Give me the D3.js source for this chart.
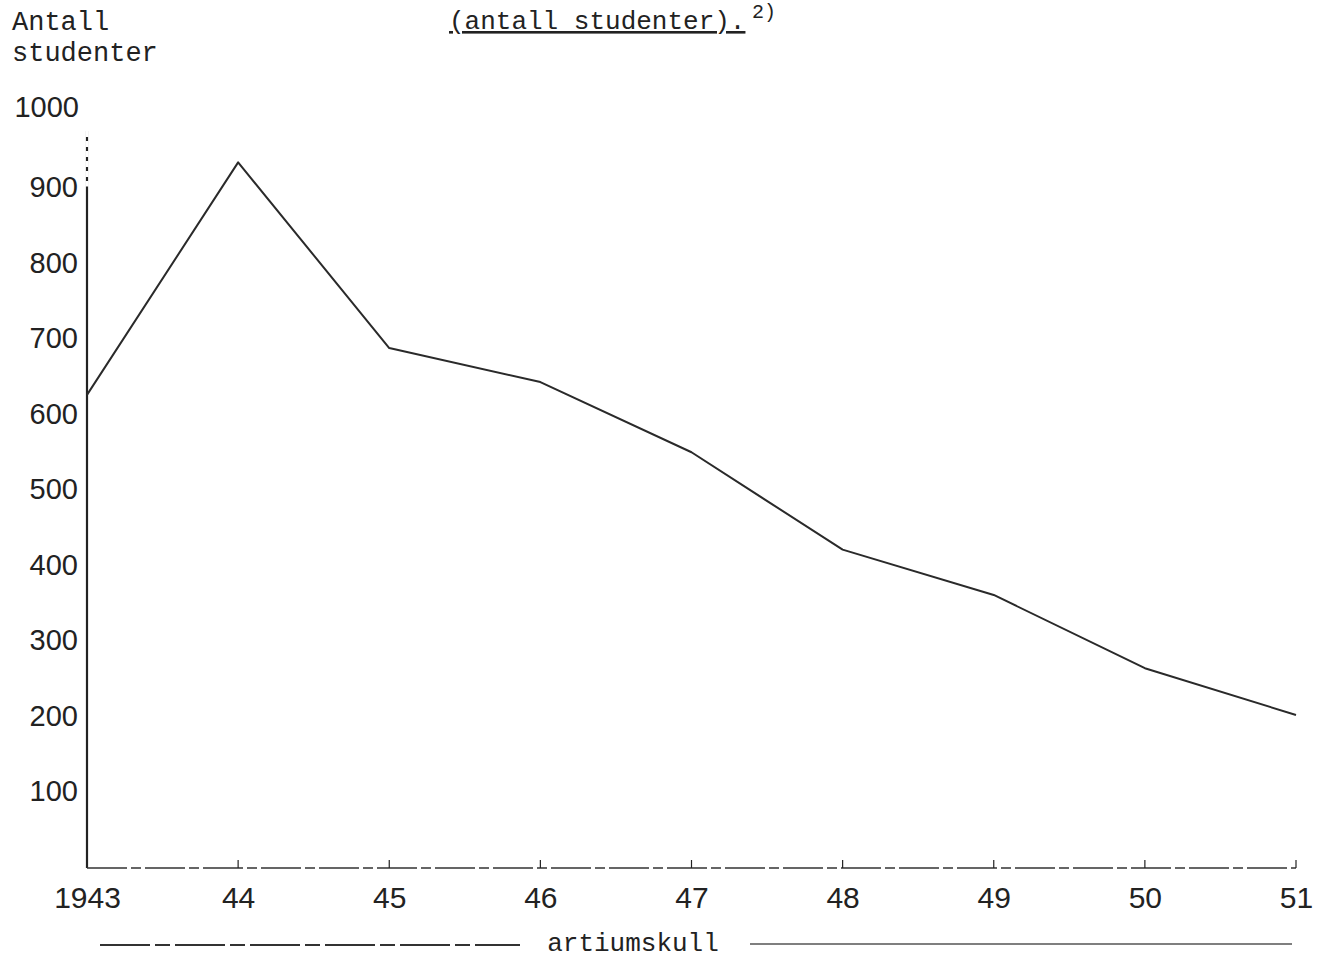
<!DOCTYPE html>
<html><head><meta charset="utf-8">
<script src="https://cdn.jsdelivr.net/npm/d3@7"></script>
<style>body{margin:0;background:#fff}svg{display:block}</style>
</head><body>
<svg id="c" width="1327" height="958"></svg>
<script>
const years = [1943,1944,1945,1946,1947,1948,1949,1950,1951];
const yearLabels = ["1943","44","45","46","47","48","49","50","51"];
const students = [624,932,686,641,548,419,359,262,200];
const yTicks = [100,200,300,400,500,600,700,800,900,1000];
const yTickLabels = ["100","200","300","400","500","600","700","800","900","1000"];

const svg = d3.select("#c");
const x = d3.scaleLinear().domain([1943,1951]).range([87,1296]);
const y = d3.scaleLinear().domain([0,1000]).range([866,111]);
const ink = "#222";
const sans = "'Liberation Sans', Arial, sans-serif";
const mono = "'Liberation Mono', 'DejaVu Sans Mono', monospace";

// axes
svg.append("line").attr("x1",87).attr("x2",87).attr("y1",y(1000)+20).attr("y2",y(0)+2)
  .attr("stroke",ink).attr("stroke-width",2.2);
svg.append("line").attr("x1",87).attr("x2",87).attr("y1",y(1000)+20).attr("y2",y(900))
  .attr("stroke","#fff").attr("stroke-width",3).attr("stroke-dasharray","6,4");
svg.append("line").attr("x1",87).attr("x2",x(1951)).attr("y1",y(0)+2).attr("y2",y(0)+2)
  .attr("stroke","#333").attr("stroke-width",1.6).attr("stroke-dasharray","40,4,10,4");

// x ticks
const xa = d3.axisBottom(x).tickValues(years).tickFormat((d,i)=>yearLabels[i]).tickSize(0).tickPadding(19);
const gx = svg.append("g").attr("transform",`translate(0,${y(0)+2})`).call(xa);
gx.select(".domain").remove();
gx.selectAll("text").attr("font-family",sans).attr("font-size",30).attr("fill","#222");
svg.selectAll(".xt").data(years.slice(1)).enter().append("line")
  .attr("x1",d=>x(d)).attr("x2",d=>x(d)).attr("y1",y(0)+2).attr("y2",y(0)-6)
  .attr("stroke",ink).attr("stroke-width",1.2);

// y ticks
const ya = d3.axisLeft(y).tickValues(yTicks).tickFormat((d,i)=>yTickLabels[i]).tickSize(0).tickPadding(9);
const gy = svg.append("g").attr("transform","translate(87,0)").call(ya);
gy.select(".domain").remove();
gy.selectAll("text").attr("font-family",sans).attr("font-size",29).attr("fill","#222")
  .attr("dy","0.36em");
gy.selectAll(".tick text").filter(d=>d===1000).attr("x",-8).attr("dy","0.2em");

// line
const line = d3.line().x((d,i)=>x(years[i])).y(d=>y(d)).curve(d3.curveLinear);
svg.append("path").datum(students).attr("d",line).attr("fill","none")
  .attr("stroke","#2a2a2a").attr("stroke-width",2).attr("stroke-linejoin","round");

// y title
svg.append("text").attr("x",12).attr("y",30).attr("font-family",mono).attr("font-size",27).attr("fill","#222").text("Antall");
svg.append("text").attr("x",12).attr("y",61).attr("font-family",mono).attr("font-size",27).attr("fill","#222").text("studenter");

// title
const t = svg.append("text").attr("x",449).attr("y",29).attr("font-family",mono).attr("font-size",26).attr("fill","#222");
t.append("tspan").attr("text-decoration","underline").text("(antall studenter).");
svg.append("text").attr("x",752).attr("y",18).attr("font-family",mono).attr("font-size",20).attr("fill","#222").text("2)");

// bottom label
svg.append("text").attr("x",633).attr("y",951).attr("text-anchor","middle").attr("font-family",mono).attr("font-size",26).attr("fill","#222").text("artiumskull");
svg.append("line").attr("x1",100).attr("x2",520).attr("y1",945).attr("y2",945).attr("stroke","#333").attr("stroke-width",1.8).attr("stroke-dasharray","50,5,15,5");
svg.append("line").attr("x1",750).attr("x2",1292).attr("y1",944).attr("y2",944).attr("stroke","#555").attr("stroke-width",1.4);
</script>
</body></html>
